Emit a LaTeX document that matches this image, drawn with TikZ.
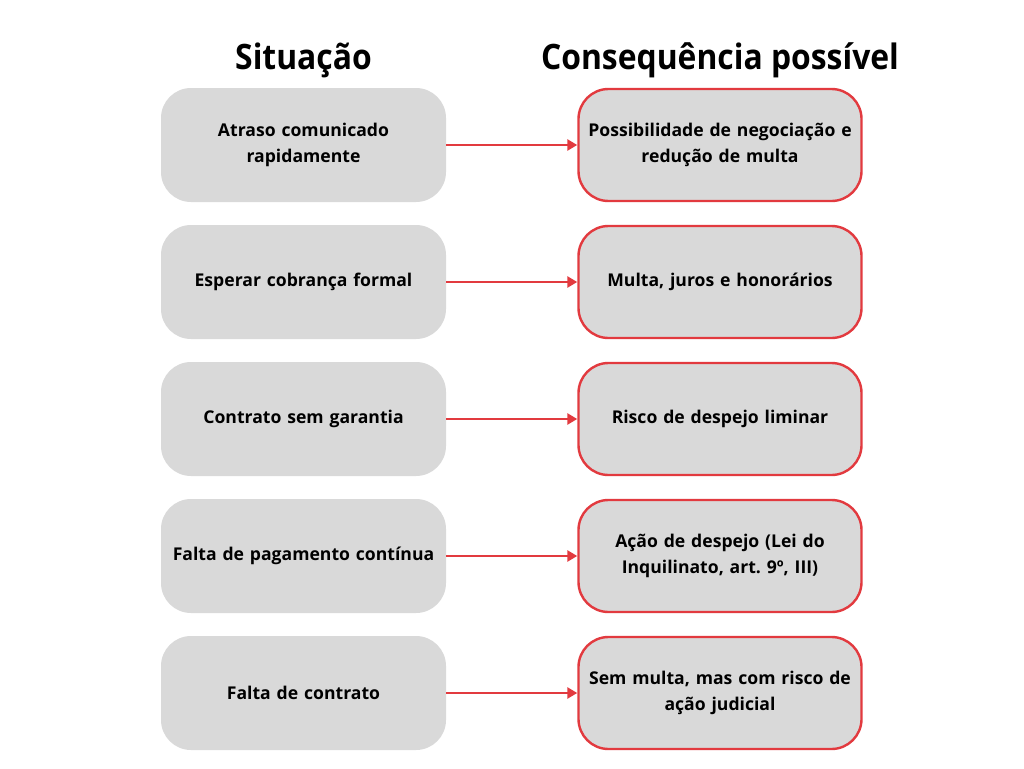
\documentclass[tikz,border=0pt]{standalone}
\usepackage{fontspec}
\setmainfont{Open Sans}[BoldFont={* Bold}]
\newfontfamily\titlefont{Open Sans}[BoldFont={* Bold},FakeStretch=0.91]
\usetikzlibrary{arrows.meta}
\frenchspacing
\definecolor{boxgray}{HTML}{D9D9D9}
\definecolor{cred}{HTML}{E23A3F}
\tikzset{
  sitbox/.style={draw=none,fill=boxgray,rounded corners=30pt,minimum width=285pt,minimum height=114pt,align=center,font=\fontsize{17.6}{26}\selectfont\bfseries,text width=280pt,inner sep=0pt},
  conbox/.style={sitbox,draw=cred,line width=2.4pt,minimum width=283pt,minimum height=112pt},
  conn/.style={draw=cred,line width=2.5pt,-{Triangle[length=10pt,width=11pt]}},
  ttl/.style={font=\titlefont\fontsize{35}{38}\selectfont\bfseries,anchor=base}
}
\begin{document}
\begin{tikzpicture}[x=1pt,y=-1pt]
\useasboundingbox (0,0) rectangle (1024,768);
\node[ttl] (t1) at (303.5,69) {Situação};
\node[ttl] (t2) at (720,69) {Consequência possível};
\foreach \i/\s/\c in {1/{Atraso comunicado\\rapidamente}/{Possibilidade de negociação e\\redução de multa},
  2/{Esperar cobrança formal}/{Multa, juros e honorários},
  3/{Contrato sem garantia}/{Risco de despejo liminar},
  4/{Falta de pagamento contínua}/{Ação de despejo (Lei do\\Inquilinato, art. 9º, III)},
  5/{Falta de contrato}/{Sem multa, mas com risco de\\ação judicial}}{
  \node[sitbox] (s\i) at (303.5,{145+137*(\i-1)}) {\s};
  \node[conbox] (c\i) at (720,{145+137*(\i-1)}) {\c};
  \draw[conn] (s\i.east) -- (c\i.west);
}
\end{tikzpicture}
\end{document}
